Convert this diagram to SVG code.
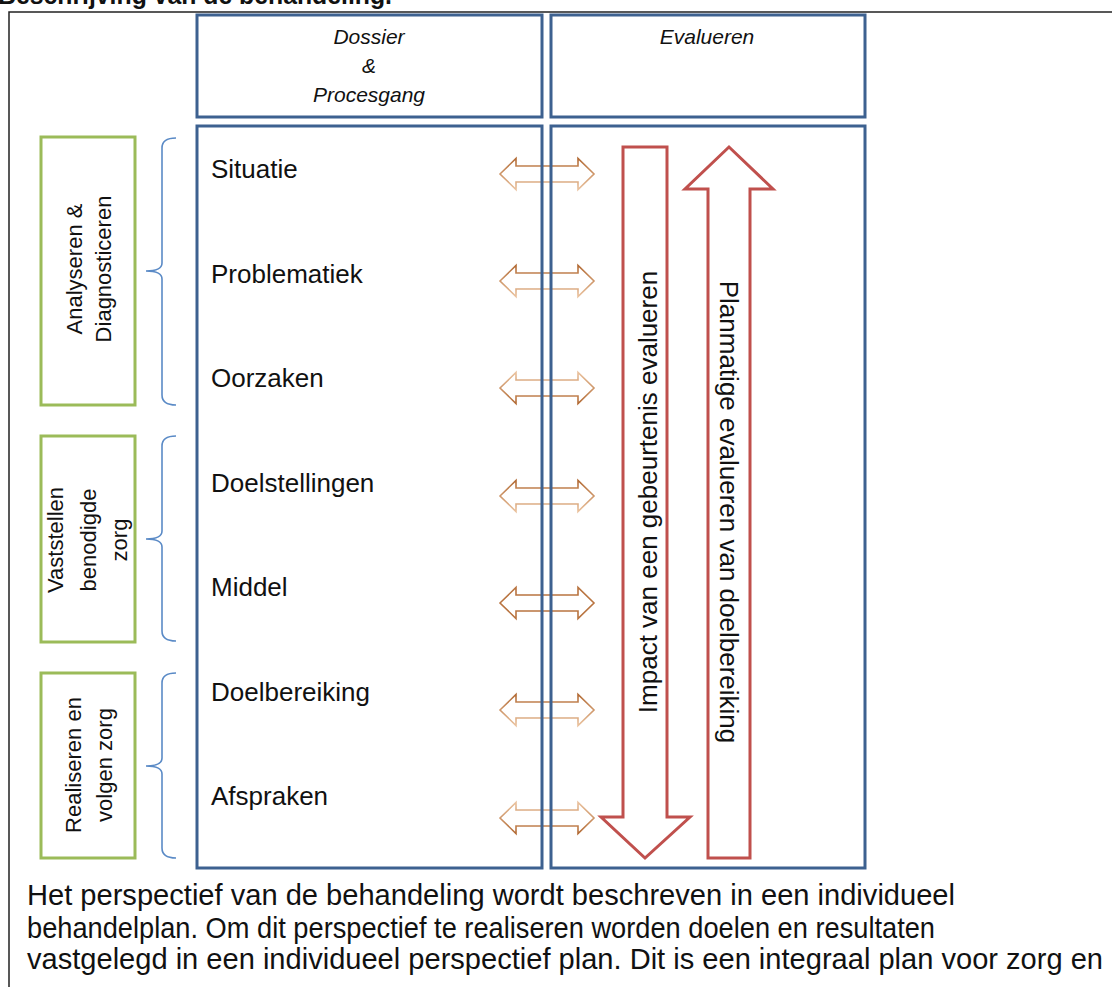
<svg xmlns="http://www.w3.org/2000/svg" width="1112" height="987" viewBox="0 0 1112 987">
<style>
.blue{fill:none;stroke:#3d6190;stroke-width:3}
.green{fill:#fff;stroke:#9bbb59;stroke-width:3}
.brace{fill:none;stroke:#5a8ac6;stroke-width:1.6}
.red{fill:#fff;stroke:#c0504d;stroke-width:3;stroke-linejoin:miter}
.t{font-family:"Liberation Sans",Arial,sans-serif;fill:#111}
.hdr{font-size:21px;font-style:italic;text-anchor:middle}
.item{font-size:26px}
.side{font-size:22px;text-anchor:middle}
.big{font-size:26px;text-anchor:middle}
.body{font-size:30px}
</style>
<defs>
<linearGradient id="gd" x1="0" y1="0" x2="0" y2="1"><stop offset="0" stop-color="#b26a34"/><stop offset="1" stop-color="#eac29e"/></linearGradient>
<linearGradient id="gu" x1="0" y1="0" x2="0" y2="1"><stop offset="0" stop-color="#eac29e"/><stop offset="1" stop-color="#b26a34"/></linearGradient>
<path id="dbl" d="M500,0 L516,-15.5 L516,-8 L578,-8 L578,-15.5 L594,0 L578,15.5 L578,8 L516,8 L516,15.5 Z" fill="none" stroke-width="1.6" stroke-linejoin="miter"/>
</defs>
<rect width="1112" height="987" fill="#fff"/>
<text class="t" x="-2" y="4" font-size="26" font-weight="bold" textLength="394" lengthAdjust="spacingAndGlyphs">Beschrijving van de behandeling.</text>
<path d="M9,987 V12 H1112" fill="none" stroke="#222" stroke-width="1.5"/>

<g id="connectors">
<use href="#dbl" transform="translate(0,174)" stroke="url(#gd)"/>
<use href="#dbl" transform="translate(0,281)" stroke="url(#gd)"/>
<use href="#dbl" transform="translate(0,388)" stroke="url(#gu)"/>
<use href="#dbl" transform="translate(0,496)" stroke="url(#gd)"/>
<use href="#dbl" transform="translate(0,603)" stroke="#b97440"/>
<use href="#dbl" transform="translate(0,710)" stroke="url(#gd)"/>
<use href="#dbl" transform="translate(0,818)" stroke="url(#gu)"/>
<path class="brace" d="M176,138 Q162,138 162,148 V263 Q162,271 146,271 Q162,271 162,279 V395 Q162,405 176,405"/>
<path class="brace" d="M176,436 Q162,436 162,446 V531 Q162,539 146,539 Q162,539 162,547 V631 Q162,641 176,641"/>
<path class="brace" d="M176,673 Q162,673 162,683 V758 Q162,766 146,766 Q162,766 162,774 V848 Q162,858 176,858"/>
</g>

<g id="hdr-dossier">
<rect class="blue" x="197" y="15" width="345" height="102"/>
<text class="t hdr" x="369" y="44">Dossier</text>
<text class="t hdr" x="369" y="73">&amp;</text>
<text class="t hdr" x="369" y="102">Procesgang</text>
</g>
<g id="hdr-evalueren">
<rect class="blue" x="551" y="15" width="314" height="102"/>
<text class="t hdr" x="707" y="44">Evalueren</text>
</g>

<g id="col-dossier">
<rect class="blue" x="197" y="126" width="345" height="742"/>
<text class="t item" x="211" y="178">Situatie</text>
<text class="t item" x="211" y="282.5">Problematiek</text>
<text class="t item" x="211" y="387">Oorzaken</text>
<text class="t item" x="211" y="491.5">Doelstellingen</text>
<text class="t item" x="211" y="596">Middel</text>
<text class="t item" x="211" y="700.5">Doelbereiking</text>
<text class="t item" x="211" y="805">Afspraken</text>
</g>

<g id="col-evalueren">
<rect class="blue" x="551" y="126" width="314" height="742"/>
</g>

<g id="arrow-impact">
<polygon class="red" points="623,147 667,147 667,817 690,817 645,858 601,817 623,817"/>
<text class="t big" transform="translate(657,492) rotate(-90)">Impact van een gebeurtenis evalueren</text>
</g>
<g id="arrow-planmatig">
<polygon class="red" points="729,147 773,189 750,189 750,858 708,858 708,189 685,189"/>
<text class="t big" transform="translate(720,512) rotate(90)">Planmatige evalueren van doelbereiking</text>
</g>

<g id="phase-analyseren">
<rect class="green" x="41" y="137" width="94" height="268"/>
<text class="t side" transform="translate(82,269) rotate(-90)">Analyseren &amp;</text>
<text class="t side" transform="translate(111,269) rotate(-90)">Diagnosticeren</text>
</g>
<g id="phase-vaststellen">
<rect class="green" x="41" y="436" width="94" height="206"/>
<text class="t side" transform="translate(63,540) rotate(-90)">Vaststellen</text>
<text class="t side" transform="translate(96,540) rotate(-90)">benodigde</text>
<text class="t side" transform="translate(127,540) rotate(-90)">zorg</text>
</g>
<g id="phase-realiseren">
<rect class="green" x="41" y="673" width="94" height="185"/>
<text class="t side" transform="translate(81,765) rotate(-90)">Realiseren en</text>
<text class="t side" transform="translate(112,765) rotate(-90)">volgen zorg</text>
</g>

<g id="caption">
<text class="t body" x="27" y="905" textLength="928" lengthAdjust="spacingAndGlyphs">Het perspectief van de behandeling wordt beschreven in een individueel</text>
<text class="t body" x="27" y="938" textLength="908" lengthAdjust="spacingAndGlyphs">behandelplan. Om dit perspectief te realiseren worden doelen en resultaten</text>
<text class="t body" x="27" y="969" style="font-size:29px" textLength="1076" lengthAdjust="spacingAndGlyphs">vastgelegd in een individueel perspectief plan. Dit is een integraal plan voor zorg en</text>
</g>
</svg>
